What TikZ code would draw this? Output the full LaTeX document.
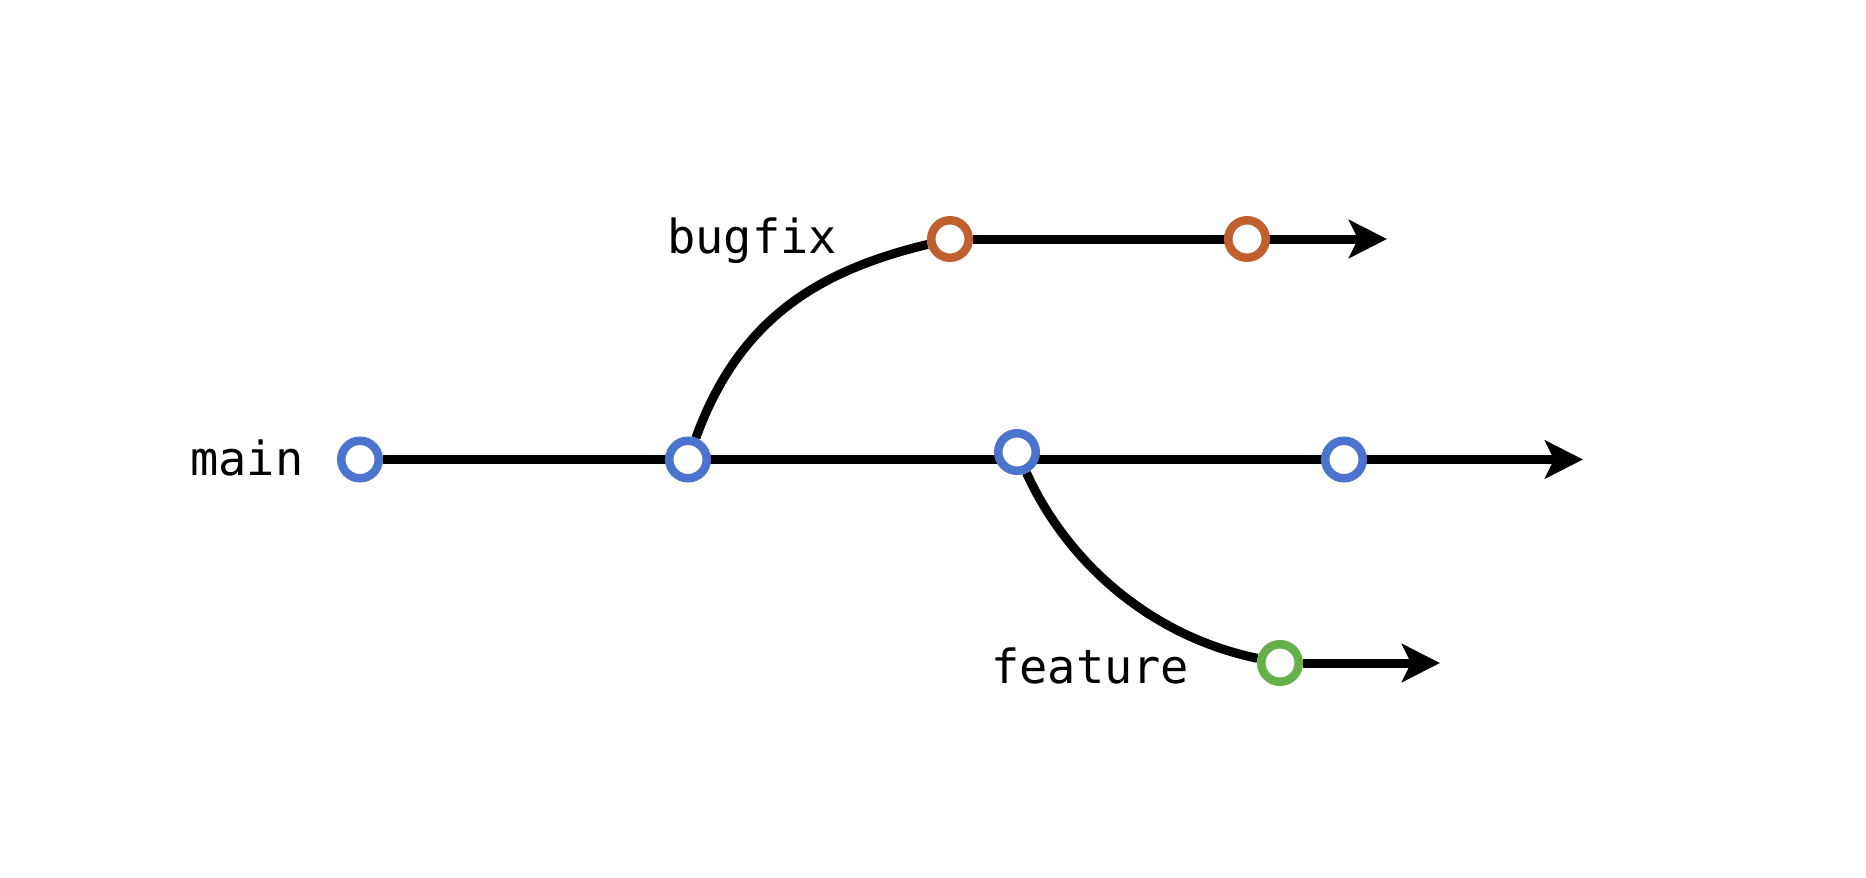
\documentclass[tikz,border=0pt]{standalone}
\usepackage{fontspec}
\newfontfamily\codefont{DejaVu Sans Mono}
\usetikzlibrary{arrows.meta,backgrounds}
\definecolor{cblue}{HTML}{4A74CE}
\definecolor{corange}{HTML}{C1602F}
\definecolor{cgreen}{HTML}{66B04A}
\tikzset{
  commit/.style={circle,draw=#1,line width=8.5pt,fill=white,minimum size=37.5pt,inner sep=0pt},
  branch/.style={line width=9pt,draw=black},
  arr/.style={-{Stealth[length=38pt,width=38pt,inset=9pt]}},
  lbl/.style={anchor=base west,inner sep=0pt,font=\codefont\fontsize{47}{56}\selectfont}
}
\begin{document}
\begin{tikzpicture}[x=1pt,y=-1pt]
\useasboundingbox (0,0) rectangle (1866,878);
% commits
\node[commit=cblue] (m1) at (360,459.5) {};
\node[commit=cblue] (m2) at (688,459.5) {};
\node[commit=cblue] (m3) at (1017,452) {};
\node[commit=cblue] (m4) at (1344,459.5) {};
\node[commit=corange] (b1) at (950,239) {};
\node[commit=corange] (b2) at (1247,239) {};
\node[commit=cgreen] (f1) at (1280,663) {};
% arrow ends
\coordinate (mEnd) at (1583,459.5);
\coordinate (bEnd) at (1387,239);
\coordinate (fEnd) at (1440,663);
% labels
\node[lbl] (lmain) at (190,475) {main};
\node[lbl] (lbug) at (667,253) {bugfix};
\node[lbl] (lfeat) at (991,683) {feature};
% connectors
\begin{scope}[on background layer]
\fill[white] (0,0) rectangle (1866,878);
\draw[branch,arr] (m1) -- (mEnd);
\draw[branch,arr] (b1) -- (bEnd);
\draw[branch,arr] (f1) -- (fEnd);
\draw[branch] (m2) .. controls (740,316) and (822,270) .. (b1);
\draw[branch] (m3) .. controls (1067,562) and (1150,636) .. (f1);
\end{scope}
\end{tikzpicture}
\end{document}
